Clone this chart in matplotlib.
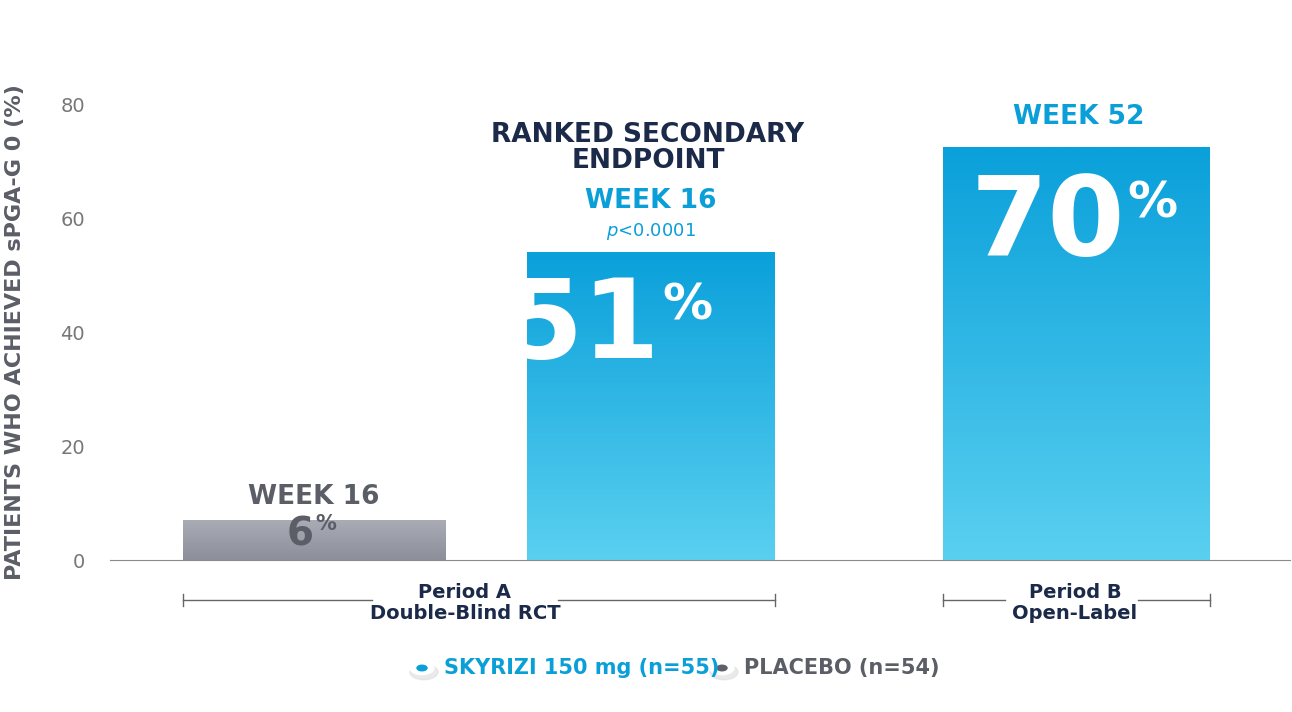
import numpy as np
import matplotlib.pyplot as plt
from matplotlib.colors import LinearSegmentedColormap

# values shown on the chart and bar heights as drawn
labels = ["6", "51", "70"]
heights = [7.0, 54.0, 72.5]
bar_left = [73, 417, 833]
bar_width = [263, 248, 267]
yticks = [0, 20, 40, 60, 80]

BLUE = "#0b9fd8"
NAVY = "#1c2a4a"
GRAY = "#5b5e66"
FONT = ["Liberation Sans Narrow", "DejaVu Sans"]
plt.rcParams['font.family'] = FONT

W, H = 1292, 712
fig = plt.figure(figsize=(W / 100, H / 100), dpi=100)
ax = fig.add_axes([110 / W, (H - 560) / H, 1180 / W, 455 / H])
ax.set_xlim(0, 1180)
ax.set_ylim(0, 80)

blue_cm = LinearSegmentedColormap.from_list("b", ["#5ad0f0", "#0aa0da"])
gray_cm = LinearSegmentedColormap.from_list("g", ["#8c8f9a", "#a9abb5"])
grad = np.linspace(0, 1, 256).reshape(-1, 1)
for i, (x0, w, h) in enumerate(zip(bar_left, bar_width, heights)):
    cm = gray_cm if i == 0 else blue_cm
    ax.imshow(grad, cmap=cm, extent=(x0, x0 + w, 0, h), origin="lower",
              aspect="auto", zorder=2)

for s in ["top", "right", "left"]:
    ax.spines[s].set_visible(False)
ax.spines["bottom"].set_color("#8a8a8a")
ax.set_xticks([])
ax.set_yticks(yticks)
ax.tick_params(axis="y", length=0, pad=18, labelsize=14, labelcolor="#777777")


def ft(px, py, s, **kw):
    fig.text(px / W, 1 - py / H, s, **kw)


# bar value labels
ft(314, 545, "6", fontsize=28, weight="bold", color=GRAY, ha="right", va="baseline")
ft(315, 530, "%", fontsize=15, weight="bold", color=GRAY, ha="left", va="baseline")
ft(660, 358, "51", fontsize=80, weight="bold", color="white", ha="right", va="baseline")
ft(662, 320, "%", fontsize=36, weight="bold", color="white", ha="left", va="baseline")
ft(1125, 255, "70", fontsize=80, weight="bold", color="white", ha="right", va="baseline")
ft(1127, 218, "%", fontsize=36, weight="bold", color="white", ha="left", va="baseline")

# headers
ft(314, 497, "WEEK 16", fontsize=19, weight="bold", color=GRAY, ha="center", va="center")
ft(648, 148, "RANKED SECONDARY\nENDPOINT", fontsize=19, weight="bold", color=NAVY,
   ha="center", va="center", linespacing=0.95)
ft(651, 201, "WEEK 16", fontsize=19, weight="bold", color=BLUE, ha="center", va="center")
ft(651, 231, "$p$<0.0001", fontsize=13, color=BLUE, ha="center", va="center")
ft(1079, 117, "WEEK 52", fontsize=19, weight="bold", color=BLUE, ha="center", va="center")

# y label
ft(15, 332, "PATIENTS WHO ACHIEVED sPGA-G 0 (%)", fontsize=16, weight="bold",
   color=GRAY, rotation=90, ha="center", va="center")


# period brackets
def bracket(x0, x1, gap0, gap1, text, cx):
    y = 1 - 600 / H
    kw = dict(color="#666666", lw=1, transform=fig.transFigure)
    fig.add_artist(plt.Line2D([x0 / W, gap0 / W], [y, y], **kw))
    fig.add_artist(plt.Line2D([gap1 / W, x1 / W], [y, y], **kw))
    for xx in (x0, x1):
        fig.add_artist(plt.Line2D([xx / W, xx / W], [y - 6 / H, y + 6 / H], **kw))
    ft(cx, 603, text, fontsize=14, weight="bold", color=NAVY, ha="center",
       va="center", linespacing=1.1)


bracket(183, 775, 372, 558, "Period A\nDouble-Blind RCT", 465)
bracket(943, 1210, 1005, 1138, "Period B\nOpen-Label", 1075)

# legend
for cx, col, txt, tcol in [(422, BLUE, "SKYRIZI 150 mg (n=55)", BLUE),
                           (722, "#5e6068", "PLACEBO (n=54)", GRAY)]:
    fig.add_artist(plt.Circle((cx / W + 0.0015, 1 - 672 / H), 14 / W,
                              color="#dddddd", alpha=0.6, transform=fig.transFigure))
    fig.add_artist(plt.Circle((cx / W, 1 - 668 / H), 12 / W, color="white",
                              transform=fig.transFigure))
    fig.add_artist(plt.Circle((cx / W, 1 - 668 / H), 5 / W, color=col,
                              transform=fig.transFigure))
    ft(cx + 22, 668, txt, fontsize=15, weight="bold", color=tcol, ha="left", va="center")

fig.savefig("out.png", dpi=100)
